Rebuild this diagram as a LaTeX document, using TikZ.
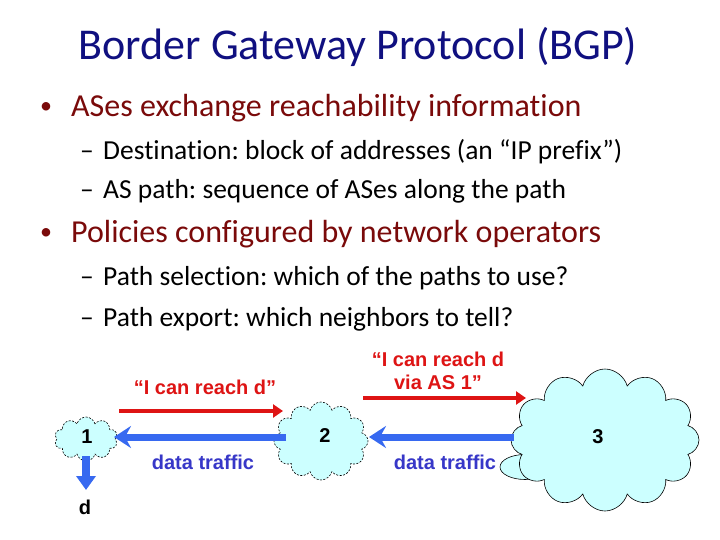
\documentclass[tikz,border=0pt]{standalone}
\usepackage{fontspec}
\setmainfont{Carlito}[Ligatures={TeX,NoCommon}]
\newfontfamily\arialfont{Liberation Sans}
\usetikzlibrary{shapes.symbols,shapes.geometric,arrows.meta}
\definecolor{titleblue}{RGB}{16,16,128}
\definecolor{bulletred}{RGB}{122,10,10}
\definecolor{msgred}{RGB}{222,20,20}
\definecolor{flowblue}{RGB}{55,105,240}
\definecolor{trafficblue}{RGB}{55,55,200}
\definecolor{cloudfill}{RGB}{204,255,255}
\frenchspacing
\newcommand{\slidebullet}{\makebox[31pt][l]{\raisebox{3pt}{\fontsize{24}{24}\selectfont •}}}
\newcommand{\slidedash}{\makebox[23pt][l]{–}}
\tikzset{
  titletext/.style={anchor=base,text=titleblue,font=\fontsize{44}{52}\selectfont,inner sep=0pt},
  lvlone/.style={anchor=base west,text=bulletred,font=\fontsize{32}{38}\selectfont,inner sep=0pt},
  lvltwo/.style={anchor=base west,text=black,font=\fontsize{27.5}{33}\selectfont,inner sep=0pt},
  ascloud/.style={shape=cloud,cloud ignores aspect,fill=cloudfill,draw=black,line width=0.6pt,inner sep=0pt},
  cloudlobe/.style={shape=ellipse,fill=cloudfill,draw=black,line width=0.6pt,inner sep=0pt},
  asnum/.style={font=\arialfont\bfseries\fontsize{20}{22}\selectfont,text=black,inner sep=0pt},
  msglabel/.style={font=\arialfont\bfseries\fontsize{20}{23}\selectfont,text=msgred,align=center,inner sep=0pt},
  trafficlabel/.style={font=\arialfont\bfseries\fontsize{20}{23}\selectfont,text=trafficblue,inner sep=0pt},
  msgarrow/.style={draw=msgred,line width=4pt,-{Triangle[width=13pt,length=10pt]}},
  flowarrow/.style={draw=flowblue,line width=7pt,-{Stealth[width=22pt,length=17pt,inset=6pt]}},
  downarrow/.style={draw=flowblue,line width=8pt,-{Triangle[width=19pt,length=14pt]}}
}
\begin{document}
\begin{tikzpicture}[x=1pt,y=-1pt]
\useasboundingbox (0,0) rectangle (720,540);
\fill[white] (0,0) rectangle (720,540);
% text
\node[titletext] (title) at (358,60) {Border Gateway Protocol (BGP)};
\node[lvlone] (b1) at (40,117) {\slidebullet ASes exchange reachability information};
\node[lvltwo] (s1) at (80,160) {\slidedash Destination: block of addresses (an “IP prefix”)};
\node[lvltwo] (s2) at (80,199) {\slidedash AS path: sequence of ASes along the path};
\node[lvlone] (b2) at (40,243) {\slidebullet Policies configured by network operators};
\node[lvltwo] (s3) at (80,285) {\slidedash Path selection: which of the paths to use?};
\node[lvltwo] (s4) at (80,326) {\slidedash Path export: which neighbors to tell?};
% clouds
\node[ascloud,dashed,dash pattern=on 2pt off 1.5pt,cloud puffs=10,minimum width=63pt,minimum height=44pt] (c1) at (86,439) {};
\node[ascloud,dashed,dash pattern=on 2pt off 1.5pt,cloud puffs=12,minimum width=94pt,minimum height=78pt] (c2) at (321,441) {};
\node[cloudlobe,minimum width=50pt,minimum height=25pt] (c3lobe) at (525,467) {};
\node[ascloud,cloud puffs=12,minimum width=188pt,minimum height=142pt] (c3) at (605,440) {};
\node[asnum] (n1) at (87,437) {1};
\node[asnum] (n2) at (325,436) {2};
\node[asnum] (n3) at (598,437) {3};
\node[asnum] (d) at (85,507) {d};
% coordinates
\coordinate (r1s) at (119,411);
\coordinate (r1e) at (283,411);
\coordinate (r2s) at (363,398);
\coordinate (r2e) at (526,398);
\coordinate (b1s) at (286,437);
\coordinate (b1e) at (114,437);
\coordinate (b2s) at (514,437);
\coordinate (b2e) at (369,437);
\coordinate (dn) at (86,456);
\coordinate (dtip) at (86,490);
% arrows
\draw[msgarrow] (r1s) -- (r1e);
\draw[msgarrow] (r2s) -- (r2e);
\draw[flowarrow] (b1s) -- (b1e);
\draw[flowarrow] (b2s) -- (b2e);
\draw[downarrow] (dn) -- (dtip);
% labels
\node[msglabel] (m1) at (205,387) {“I can reach d”};
\node[msglabel] (m2) at (438,371) {“I can reach d\\via AS 1”};
\node[trafficlabel] (t1) at (203,462) {data traffic};
\node[trafficlabel] (t2) at (445,462) {data traffic};
\end{tikzpicture}
\end{document}
